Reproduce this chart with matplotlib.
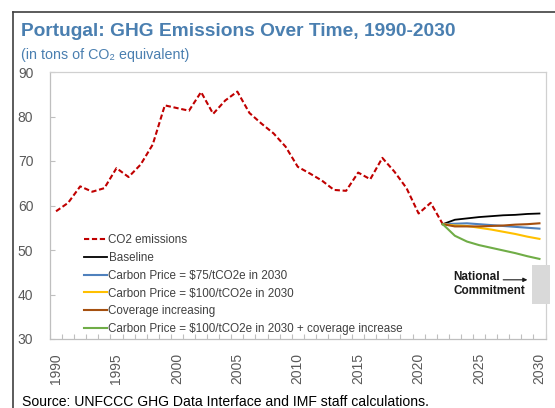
import numpy as np
import matplotlib
matplotlib.use("Agg")
import matplotlib.pyplot as plt
from matplotlib.patches import Rectangle
from matplotlib.lines import Line2D

plt.rcParams['font.family'] = ['Liberation Sans', 'DejaVu Sans']

# historical emissions, 1990-2022
hist_years = list(range(1990, 2023))
co2 = [58.7, 60.6, 64.3, 63.1, 63.9, 68.4, 66.4, 69.2, 73.7, 82.5,
       81.9, 81.3, 85.5, 80.6, 83.6, 85.6, 80.8, 78.4, 76.2, 73.2,
       68.7, 67.2, 65.6, 63.5, 63.3, 67.4, 65.9, 70.7, 67.6, 63.9,
       58.2, 60.6, 55.8]

# scenarios, 2022-2030
proj_years = list(range(2022, 2031))
baseline = [55.8, 56.8, 57.1, 57.4, 57.6, 57.8, 57.9, 58.1, 58.2]
price75 = [55.8, 55.9, 56.0, 55.8, 55.6, 55.4, 55.2, 55.0, 54.8]
price100 = [55.8, 55.5, 55.4, 55.0, 54.6, 54.1, 53.6, 53.0, 52.5]
coverage = [55.8, 55.3, 55.3, 55.3, 55.4, 55.5, 55.7, 55.8, 56.0]
price100_cov = [55.8, 53.2, 51.9, 51.1, 50.5, 49.9, 49.3, 48.6, 48.0]

commit_low, commit_high = 37.9, 46.6

xticks = list(range(1990, 2031, 5))
yticks = [30, 40, 50, 60, 70, 80, 90]

blue_title = '#4a7fb0'
grey_txt = '#595959'

fig = plt.figure(figsize=(5.55, 4.08), dpi=100)
ax = fig.add_axes([50/555, 1-339/408, 495.5/555, 267/408])

ax.plot(hist_years, co2, color='#c00000', lw=1.5, dashes=(2.5, 1.3),
        label='CO2 emissions')
ax.plot(proj_years, baseline, color='black', lw=1.3, label='Baseline')
ax.plot(proj_years, price75, color='#4f81bd', lw=1.5,
        label='Carbon Price = $75/tCO2e in 2030')
ax.plot(proj_years, price100, color='#ffc000', lw=1.5,
        label='Carbon Price = $100/tCO2e in 2030')
ax.plot(proj_years, coverage, color='#a5500f', lw=1.5,
        label='Coverage increasing')
ax.plot(proj_years, price100_cov, color='#70ad47', lw=1.5,
        label='Carbon Price = $100/tCO2e in 2030 + coverage increase')

# national commitment box
ax.add_patch(Rectangle((2029.35, commit_low), 1.5, commit_high - commit_low,
                       facecolor='#d9d9d9', edgecolor='none', clip_on=False,
                       zorder=3))
ax.text(2022.9, 42.3, 'National\nCommitment', fontsize=8.5, fontweight='bold',
        ha='left', ma='left', va='center', color='#1a1a1a', linespacing=1.25)
ax.annotate('', xy=(2029.0, 43.3), xytext=(2027.0, 43.3),
            arrowprops=dict(arrowstyle='-|>', lw=0.8, color='#1a1a1a',
                            mutation_scale=6, shrinkA=0, shrinkB=0))

ax.set_xlim(1989.5, 2030.5)
ax.set_ylim(30, 90)
ax.set_xticks(xticks)
ax.set_xticklabels([str(y) for y in xticks], rotation=90)
ax.set_xticks(np.arange(1989.5, 2031, 1), minor=True)
ax.set_yticks(yticks)
ax.tick_params(axis='x', which='major', length=0, pad=10, labelsize=10,
               labelcolor=grey_txt)
ax.tick_params(axis='x', which='minor', direction='in', length=3.5,
               width=0.8, color='#bfbfbf')
ax.tick_params(axis='y', direction='in', length=3.5, width=0.8,
               color='#bfbfbf', pad=12, labelsize=10, labelcolor=grey_txt)
for s in ax.spines.values():
    s.set_color('#d0d0d0')
    s.set_linewidth(0.9)
ax.spines['left'].set_color('#bfbfbf')
ax.spines['bottom'].set_color('#bfbfbf')

handles, labels = ax.get_legend_handles_labels()
leg = ax.legend(handles, labels, loc='upper left',
                bbox_to_anchor=(84/555, 1-234/408),
                bbox_transform=fig.transFigure, frameon=False, fontsize=8.4,
                handlelength=2.0, handletextpad=0.1, labelspacing=0.5,
                borderpad=0, borderaxespad=0)
for t in leg.get_texts():
    t.set_color('#404040')

fig.text(21/555, 1-32/408, 'Portugal: GHG Emissions Over Time, 1990-2030',
         fontsize=13.8, fontweight='bold', color=blue_title, va='center')
fig.text(21/555, 1-55/408, '(in tons of CO\u2082 equivalent)', fontsize=10.3,
         color=blue_title, va='center')
fig.text(22/555, 1-402/408,
         'Source: UNFCCC GHG Data Interface and IMF staff calculations.',
         fontsize=10.1, color='black', va='center')

# outer frame (left and top edges)
fig.add_artist(Line2D([13/555, 13/555], [0, 1-12/408],
                      transform=fig.transFigure, color='#404040', lw=1.2))
fig.add_artist(Line2D([13/555, 1], [1-12/408, 1-12/408],
                      transform=fig.transFigure, color='#404040', lw=1.2))

fig.savefig('out.png', dpi=100)
